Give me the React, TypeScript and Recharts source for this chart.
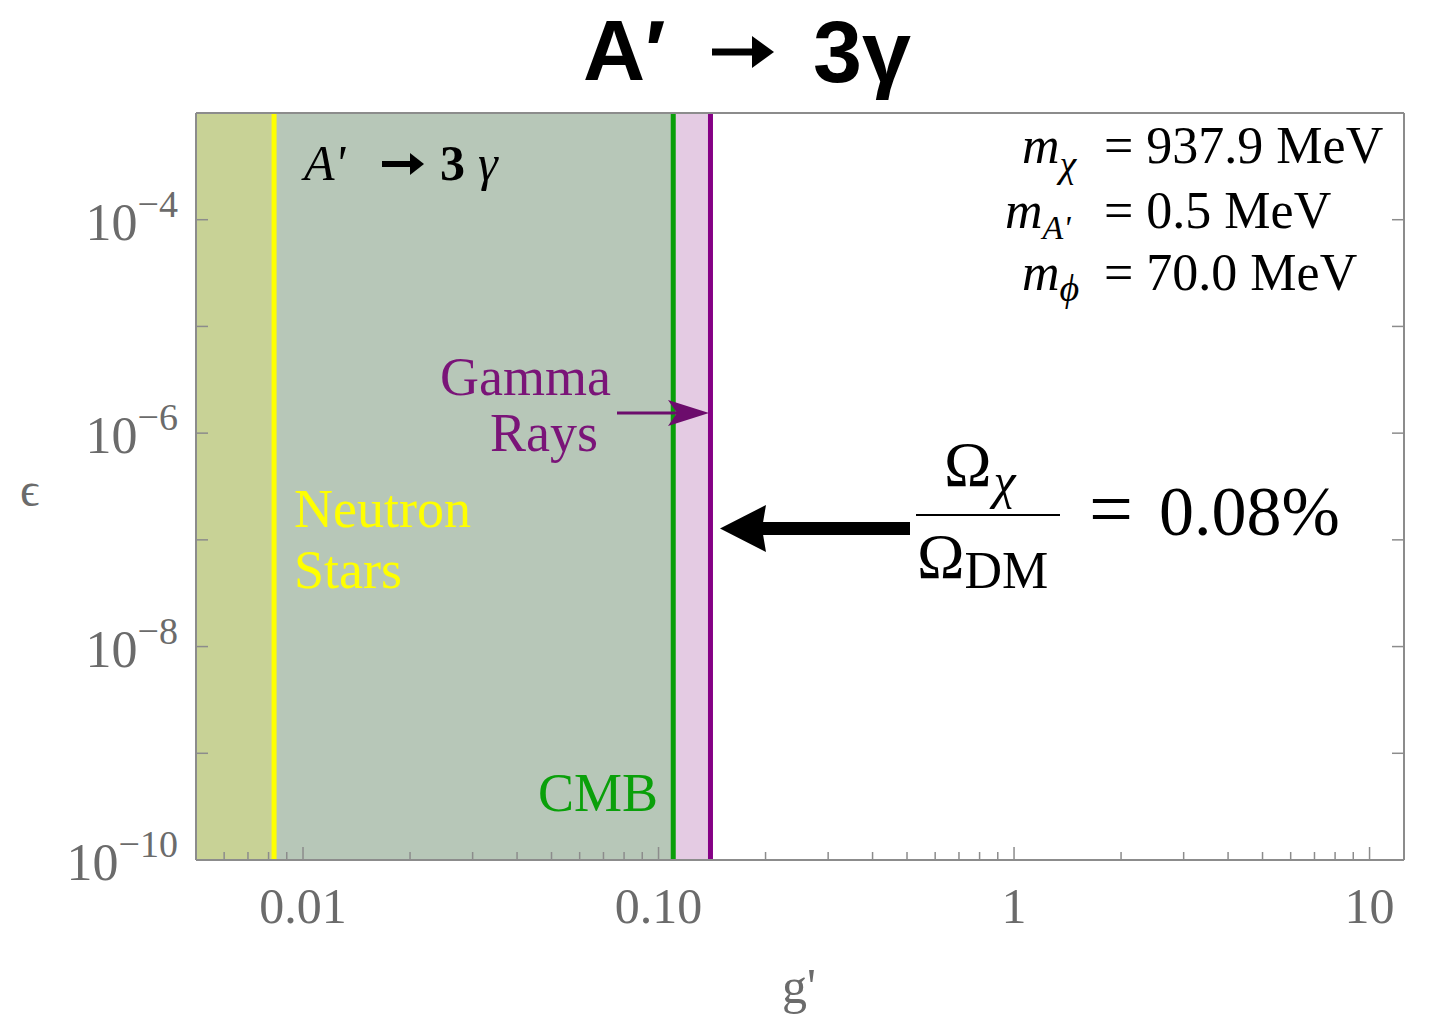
import React from 'react';
import {
  ComposedChart, XAxis, YAxis, ReferenceArea, ReferenceLine,
} from 'recharts';

// axis ranges
const gDomain = [0.005, 12.5];
const epsDomain = [1e-10, 1e-3];

// x ticks (g')
const xMajorTicks = [0.01, 0.1, 1, 10];
const xTickLabels = ['0.01', '0.10', '1', '10'];
const xMinorTicks = [
  0.006, 0.007, 0.008, 0.009,
  0.02, 0.03, 0.04, 0.05, 0.06, 0.07, 0.08, 0.09,
  0.2, 0.3, 0.4, 0.5, 0.6, 0.7, 0.8, 0.9,
  2, 3, 4, 5, 6, 7, 8, 9,
];

// y ticks (epsilon)
const yTicks = [1e-10, 1e-9, 1e-8, 1e-7, 1e-6, 1e-5, 1e-4, 1e-3];
const yLabelExponents = [-10, -8, -6, -4];

// lower bounds on g' from each constraint
const boundNames = ['Neutron Stars', 'CMB', 'Gamma Rays'];
const boundG = [0.00829, 0.11, 0.14];

// benchmark masses shown in the corner
const massSymbols = ['\u03c7', "A'", '\u03d5'];
const massValues = ['937.9', '0.5', '70.0'];
const relicFraction = '0.08%';

const FRAME = '#8c8c8c';
const TICK_TEXT = '#6b6b6b';
const SERIF = '"Liberation Serif", "Times New Roman", serif';
const SANS = '"Liberation Sans", Arial, sans-serif';

const isMajorX = (v: number) => xMajorTicks.some((m) => Math.abs(m - v) < 1e-9);

const BottomTick = (props: any) => {
  const { x, y, payload } = props;
  const v = payload.value;
  const idx = xMajorTicks.findIndex((m) => Math.abs(m - v) < 1e-9);
  const major = idx >= 0;
  return (
    <g>
      <line x1={x} x2={x} y1={y} y2={y - (major ? 13 : 8)} stroke={FRAME} strokeWidth={1.5} />
      {major && (
        <text x={x} y={y + 63} textAnchor="middle" fontFamily={SERIF} fontSize={50} fill={TICK_TEXT}>
          {xTickLabels[idx]}
        </text>
      )}
    </g>
  );
};

const TopTick = (props: any) => {
  const { x, y, payload } = props;
  const major = isMajorX(payload.value);
  return <line x1={x} x2={x} y1={y} y2={y + (major ? 13 : 8)} stroke={FRAME} strokeWidth={1.5} />;
};

const LeftTick = (props: any) => {
  const { x, y, payload } = props;
  const exp = Math.round(Math.log10(payload.value));
  const labelled = yLabelExponents.includes(exp);
  return (
    <g>
      <line x1={x} x2={x + 12} y1={y} y2={y} stroke={FRAME} strokeWidth={1.5} />
      {labelled && (
        <text x={x - 18} y={y + 20} textAnchor="end" fontFamily={SERIF} fontSize={52} fill={TICK_TEXT}>
          <tspan>10</tspan>
          <tspan dy={-23} fontSize={38}>{'\u2212' + Math.abs(exp)}</tspan>
        </text>
      )}
    </g>
  );
};

const RightTick = (props: any) => {
  const { x, y } = props;
  return <line x1={x} x2={x - 12} y1={y} y2={y} stroke={FRAME} strokeWidth={1.5} />;
};

const massRows = [
  { mx: 1022, y: 163, sub: 14, subSize: 38 },
  { mx: 1005, y: 228, sub: 11, subSize: 34 },
  { mx: 1022, y: 290, sub: 11, subSize: 38 },
];

const Annotations = () => (
  <svg width={1430} height={1019} style={{ position: 'absolute', left: 0, top: 0, pointerEvents: 'none' }}>
    {/* title */}
    <text x={583} y={80} fontFamily={SANS} fontWeight="bold" fontSize={86} fill="#000">
      {'A\u2032'}
    </text>
    <rect x={712} y={48.5} width={46} height={7} fill="#000" />
    <path d="M774,52 L752,36 L752,68 Z" fill="#000" />
    <text x={813} y={82} fontFamily={SANS} fontWeight="bold" fontSize={88} fill="#000">
      {'3\u03b3'}
    </text>

    {/* process label */}
    <g fontFamily={SERIF} fontSize={50} fill="#000">
      <text x={304} y={180} fontStyle="italic">A'</text>
      <rect x={382} y={161} width={32} height={6} />
      <path d="M424,164 L410,153 L410,175 Z" />
      <text x={440} y={180} fontWeight="bold">3</text>
      <text x={478} y={180} fontStyle="italic">{'\u03b3'}</text>
    </g>

    {/* masses, aligned on the equals sign */}
    <g fontFamily={SERIF} fontSize={52} fill="#000">
      {massRows.map((r, i) => (
        <g key={massSymbols[i]}>
          <text x={r.mx} y={r.y}>
            <tspan fontStyle="italic">m</tspan>
            <tspan fontStyle="italic" fontSize={r.subSize} dy={r.sub}>{massSymbols[i]}</tspan>
          </text>
          <text x={1104} y={r.y}>{'= ' + massValues[i] + ' MeV'}</text>
        </g>
      ))}
    </g>

    {/* constraint labels */}
    <g fontFamily={SERIF} fontSize={54}>
      <text x={440} y={395} fill="#7a1478">Gamma</text>
      <text x={490} y={451} fill="#7a1478">Rays</text>
      <text x={294} y={527} fill="#ffff00">Neutron</text>
      <text x={294} y={588} fill="#ffff00">Stars</text>
      <text x={538} y={811} fill="#0aa00a">CMB</text>
    </g>

    {/* gamma-ray arrow */}
    <line x1={617} y1={413} x2={690} y2={413} stroke="#6c0c6c" strokeWidth={3} />
    <path d="M709,413 L668,400 L677,413 L668,426 Z" fill="#6c0c6c" />

    {/* relic abundance arrow */}
    <rect x={760} y={522} width={150} height={13} fill="#000" />
    <path d="M720,528.5 L766,505 L762,528.5 L766,552 Z" fill="#000" />

    {/* relic fraction */}
    <g fontFamily={SERIF} fill="#000">
      <text x={944} y={486} fontSize={64}>
        <tspan>{'\u03a9'}</tspan>
        <tspan fontStyle="italic" fontSize={50} dx={2} dy={12}>{'\u03c7'}</tspan>
      </text>
      <line x1={916} x2={1060} y1={515} y2={515} stroke="#000" strokeWidth={2} />
      <text x={917} y={578} fontSize={64}>
        <tspan>{'\u03a9'}</tspan>
        <tspan fontSize={52} dy={10}>DM</tspan>
      </text>
      <text x={1089} y={535} fontSize={78}>=</text>
      <text x={1159} y={535} fontSize={70}>{relicFraction}</text>
    </g>

    {/* axis titles */}
    <text x={20} y={506} fontFamily={SERIF} fontSize={48} fill={TICK_TEXT}>{'\u03f5'}</text>
    <text x={782} y={1003} fontFamily={SERIF} fontSize={50} fill={TICK_TEXT}>g'</text>
  </svg>
);

export default function App() {
  const regionFills = ['#c8d296', '#b7c7b8', '#e4cbe3'];
  const lineColors = ['#ffff00', '#0a9e0a', '#850085'];
  const edges = [gDomain[0], ...boundG];

  return (
    <div style={{ position: 'absolute', left: 0, top: 0, width: 1430, height: 1019, background: '#fff' }}>
      <ComposedChart
        width={1430}
        height={1019}
        data={[]}
        margin={{ top: 93, right: 6, bottom: 59, left: 96 }}
      >
        <XAxis
          xAxisId="bottom"
          type="number"
          dataKey="g"
          scale="log"
          domain={gDomain}
          allowDataOverflow
          ticks={[...xMinorTicks, ...xMajorTicks]}
          interval={0}
          tick={<BottomTick />}
          tickLine={false}
          tickSize={0}
          tickMargin={0}
          height={100}
          axisLine={{ stroke: FRAME, strokeWidth: 2 }}
        />
        <XAxis
          xAxisId="top"
          orientation="top"
          type="number"
          scale="log"
          domain={gDomain}
          allowDataOverflow
          ticks={[...xMinorTicks, ...xMajorTicks]}
          interval={0}
          tick={<TopTick />}
          tickLine={false}
          tickSize={0}
          tickMargin={0}
          height={20}
          axisLine={{ stroke: FRAME, strokeWidth: 2 }}
        />
        <YAxis
          yAxisId="left"
          type="number"
          scale="log"
          domain={epsDomain}
          allowDataOverflow
          ticks={yTicks}
          interval={0}
          tick={<LeftTick />}
          tickLine={false}
          tickSize={0}
          tickMargin={0}
          width={100}
          axisLine={{ stroke: FRAME, strokeWidth: 2 }}
        />
        <YAxis
          yAxisId="right"
          orientation="right"
          type="number"
          scale="log"
          domain={epsDomain}
          allowDataOverflow
          ticks={yTicks}
          interval={0}
          tick={<RightTick />}
          tickLine={false}
          tickSize={0}
          tickMargin={0}
          width={20}
          axisLine={{ stroke: FRAME, strokeWidth: 2 }}
        />
        {boundG.map((g, i) => (
          <ReferenceArea
            key={'area-' + boundNames[i]}
            xAxisId="bottom"
            yAxisId="left"
            x1={edges[i]}
            x2={g}
            y1={epsDomain[0]}
            y2={epsDomain[1]}
            fill={regionFills[i]}
            fillOpacity={1}
            stroke="none"
            ifOverflow="hidden"
          />
        ))}
        {boundG.map((g, i) => (
          <ReferenceLine
            key={'line-' + boundNames[i]}
            xAxisId="bottom"
            yAxisId="left"
            x={g}
            stroke={lineColors[i]}
            strokeWidth={5}
          />
        ))}
      </ComposedChart>
      <Annotations />
    </div>
  );
}
